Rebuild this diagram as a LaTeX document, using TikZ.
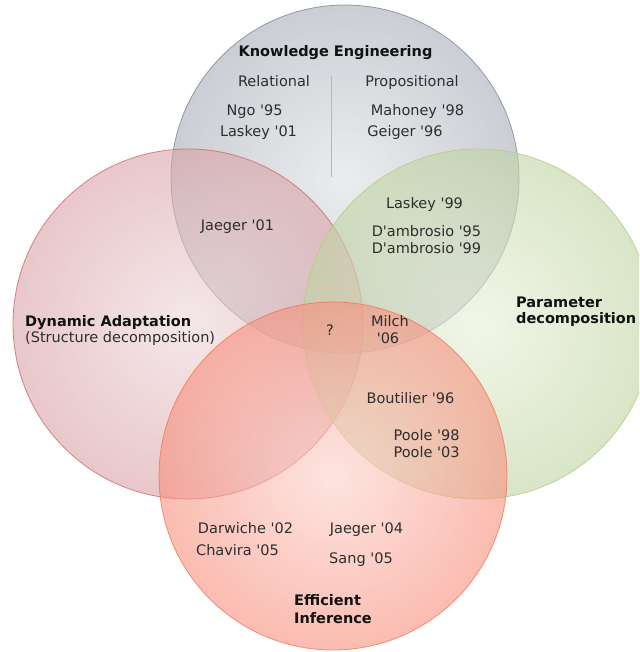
\documentclass[tikz,border=0pt]{standalone}
\usepackage{fontspec}
\setmainfont{DejaVu Sans}
\newcommand{\yr}[1]{\textquotesingle#1}
\definecolor{txt}{HTML}{2E2E2E}
\definecolor{hd}{HTML}{111111}
% circle fills (inner / outer) and outlines
\definecolor{keIn}{RGB}{222,224,227}
\definecolor{keOut}{RGB}{168,173,183}
\definecolor{keLine}{HTML}{7D8797}
\definecolor{daIn}{RGB}{237,216,218}
\definecolor{daOut}{RGB}{218,162,167}
\definecolor{daLine}{HTML}{D06A6A}
\definecolor{pdIn}{RGB}{232,239,216}
\definecolor{pdOut}{RGB}{192,212,162}
\definecolor{pdLine}{HTML}{B5CC80}
\definecolor{eiIn}{RGB}{252,210,203}
\definecolor{eiOut}{RGB}{248,143,125}
\definecolor{eiLine}{HTML}{F2775A}
\definecolor{divider}{HTML}{B8B8B8}
\begin{document}
\begin{tikzpicture}[x=1pt,y=-1pt,
  lbl/.style={font=\fontsize{14.5}{17}\selectfont, text=txt, inner sep=0pt, anchor=base},
  head/.style={font=\fontsize{14.5}{17}\selectfont\bfseries, text=hd, inner sep=0pt, anchor=base west},
  disc/.style={fill opacity=0.6},
  rim/.style={line width=0.8pt, draw opacity=0.8}
]
\useasboundingbox (0,0) rectangle (639,652);
\begin{scope}
\clip (0,0) rectangle (639,652);
% Knowledge Engineering
\shade[disc, inner color=keIn, outer color=keOut] (345,179) circle[radius=174pt];
\draw[rim, keLine] (345,179) circle[radius=174pt];
% Dynamic Adaptation
\shade[disc, inner color=daIn, outer color=daOut] (188,324) circle[radius=175pt];
\draw[rim, daLine] (188,324) circle[radius=175pt];
% Parameter decomposition
\shade[disc, inner color=pdIn, outer color=pdOut] (478,324) circle[radius=175pt];
\draw[rim, pdLine] (478,324) circle[radius=175pt];
% Efficient Inference
\shade[disc, inner color=eiIn, outer color=eiOut] (333,476) circle[radius=174pt];
\draw[rim, eiLine] (333,476) circle[radius=174pt];
\end{scope}

% divider between relational and propositional work
\coordinate (divTop) at (331,76);
\coordinate (divBot) at (331,177);
\draw[divider, line width=0.8pt] (divTop) -- (divBot);

% Knowledge Engineering
\node[head, anchor=base] (ke) at (335.5,57) {Knowledge Engineering};
\node[lbl] (rel) at (274,87) {Relational};
\node[lbl] (prop) at (412,87) {Propositional};
\node[lbl] (ngo) at (254.5,116) {Ngo \yr{95}};
\node[lbl] (lask01) at (258.5,137) {Laskey \yr{01}};
\node[lbl] (mah) at (417.5,116) {Mahoney \yr{98}};
\node[lbl] (gei) at (405,137) {Geiger \yr{96}};

% Knowledge Engineering & Dynamic Adaptation
\node[lbl] (jae01) at (237.5,230) {Jaeger \yr{01}};

% Dynamic Adaptation
\node[head] (da) at (25,326) {Dynamic Adaptation};
\node[lbl, anchor=base west] (sd) at (25,342) {(Structure decomposition)};

% Knowledge Engineering & Parameter decomposition
\node[lbl] (lask99) at (424.5,208) {Laskey \yr{99}};
\node[lbl] (damb95) at (426.5,236) {D\textquotesingle ambrosio \yr{95}};
\node[lbl] (damb99) at (426.5,253) {D\textquotesingle ambrosio \yr{99}};

% Parameter decomposition
\node[head] (pd1) at (516,307) {Parameter};
\node[head] (pd2) at (516,323) {decomposition};

% centre
\node[lbl] (q) at (330,335) {?};
\node[lbl] (milch) at (390,326) {Milch};
\node[lbl] (milch06) at (388,343) {\yr{06}};

% Parameter decomposition & Efficient Inference
\node[lbl] (bout) at (410.5,403) {Boutilier \yr{96}};
\node[lbl] (poole98) at (426.5,440) {Poole \yr{98}};
\node[lbl] (poole03) at (426.5,457) {Poole \yr{03}};

% Efficient Inference
\node[lbl] (darw) at (245.5,533) {Darwiche \yr{02}};
\node[lbl] (chav) at (237.5,555) {Chavira \yr{05}};
\node[lbl] (jae04) at (366.5,533) {Jaeger \yr{04}};
\node[lbl] (sang) at (361,563) {Sang \yr{05}};
\node[head] (ei1) at (294,605) {Efficient};
\node[head] (ei2) at (294,623) {Inference};
\end{tikzpicture}
\end{document}
